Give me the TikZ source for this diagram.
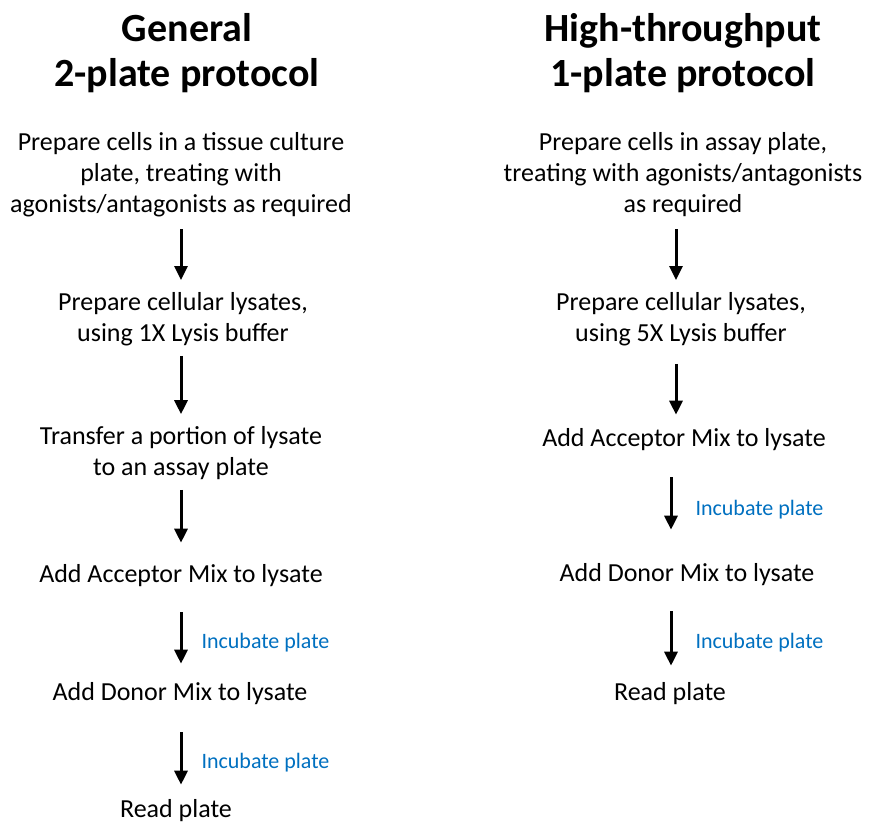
\documentclass[tikz,border=0pt]{standalone}
\usepackage{fontspec}
\setmainfont{Carlito}
\usetikzlibrary{arrows.meta}
\definecolor{incblue}{HTML}{0070C0}
\begin{document}
\begin{tikzpicture}[x=1pt,y=-1pt,
  head/.style={font=\fontsize{40}{45}\selectfont\bfseries, align=center, inner sep=0pt},
  stepbox/.style={font=\fontsize{26}{31}\selectfont, align=center, inner sep=0pt},
  inclabel/.style={font=\fontsize{22}{26}\selectfont, text=incblue, anchor=west, inner sep=0pt},
  arr/.style={line width=3pt, -{Triangle[length=14pt,width=13pt]}}]
\useasboundingbox (0,0) rectangle (870,825);
% headings
\node[head] (HL) at (187,53) {General\\2-plate protocol};
\node[head] (HR) at (683,53) {High-throughput\\1-plate protocol};
% left column
\node[stepbox] (L1) at (181,175) {Prepare cells in a tissue culture\\plate, treating with\\agonists/antagonists as required};
\node[stepbox] (L2) at (183,319) {Prepare cellular lysates,\\using 1X Lysis buffer};
\node[stepbox] (L3) at (181,453) {Transfer a portion of lysate\\to an assay plate};
\node[stepbox] (L4) at (181,576) {Add Acceptor Mix to lysate};
\node[stepbox] (L5) at (180,694) {Add Donor Mix to lysate};
\node[stepbox] (L6) at (176,811) {Read plate};
% right column
\node[stepbox] (R1) at (683,175) {Prepare cells in assay plate,\\treating with agonists/antagonists\\as required};
\node[stepbox] (R2) at (681,319) {Prepare cellular lysates,\\using 5X Lysis buffer};
\node[stepbox] (R3) at (684,440) {Add Acceptor Mix to lysate};
\node[stepbox] (R4) at (687,575) {Add Donor Mix to lysate};
\node[stepbox] (R5) at (670,694) {Read plate};
% arrow columns
\coordinate (LX) at (181,0);
\coordinate (RX) at (676,0);
\coordinate (RY) at (671,0);
% left arrows
\draw[arr, shorten <=12pt, shorten >=12pt] (L1.south -| LX) -- (L2.north -| LX);
\draw[arr, shorten <=10pt, shorten >=12pt] (L2.south -| LX) -- (L3.north -| LX);
\draw[arr, shorten <=10pt, shorten >=22pt] (L3.south -| LX) -- (L4.north -| LX);
\draw[arr, shorten <=25pt, shorten >=19pt] (L4.south -| LX) -- (L5.north -| LX)
  node[midway, inclabel, xshift=19pt, yshift=-8pt] (IL1) {Incubate plate};
\draw[arr, shorten <=27pt, shorten >=15pt] (L5.south -| LX) -- (L6.north -| LX)
  node[midway, inclabel, xshift=19pt, yshift=-10pt] (IL2) {Incubate plate};
% right arrows
\draw[arr, shorten <=12pt, shorten >=12pt] (R1.south -| RX) -- (R2.north -| RX);
\draw[arr, shorten <=18pt, shorten >=14pt] (R2.south -| RX) -- (R3.north -| RX);
\draw[arr, shorten <=26pt, shorten >=34pt] (R3.south -| RY) -- (R4.north -| RY)
  node[midway, inclabel, xshift=23pt, yshift=-2pt] (IR1) {Incubate plate};
\draw[arr, shorten <=25pt, shorten >=17pt] (R4.south -| RY) -- (R5.north -| RY)
  node[midway, inclabel, xshift=23pt, yshift=-8pt] (IR2) {Incubate plate};
\end{tikzpicture}
\end{document}
